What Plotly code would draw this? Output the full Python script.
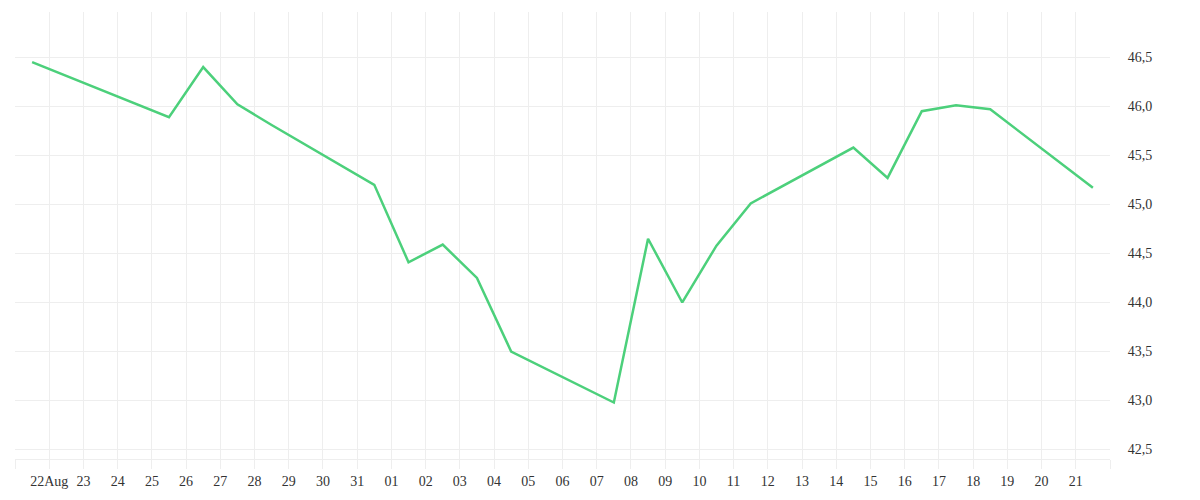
import pandas as pd
import plotly.graph_objects as go

# daily values (plotted at midday), gaps are days without data
dates = ['2020-08-21', '2020-08-25', '2020-08-26', '2020-08-27', '2020-08-28',
         '2020-08-31', '2020-09-01', '2020-09-02', '2020-09-03', '2020-09-04',
         '2020-09-07', '2020-09-08', '2020-09-09', '2020-09-10', '2020-09-11',
         '2020-09-14', '2020-09-15', '2020-09-16', '2020-09-17', '2020-09-18',
         '2020-09-21']
values = [46.45, 45.89, 46.40, 46.02, 45.81,
          45.20, 44.41, 44.59, 44.25, 43.50,
          42.98, 44.65, 44.00, 44.58, 45.01,
          45.58, 45.27, 45.95, 46.01, 45.97,
          45.17]

y_ticks = [42.5, 43.0, 43.5, 44.0, 44.5, 45.0, 45.5, 46.0, 46.5]

GRID = '#eeeeee'
LINE = '#4cd07b'
FONT = 'Liberation Serif, Times New Roman, serif'


def main():
    x = pd.to_datetime(dates) + pd.Timedelta(hours=12)

    # one tick per day, first and last only mark the plot edges
    days = pd.date_range('2020-08-21', '2020-09-22', freq='D')
    tick_text = []
    for d in days:
        if d == days[0] or d == days[-1]:
            tick_text.append('')
        elif d == days[1]:
            tick_text.append(d.strftime('%d%b'))
        else:
            tick_text.append(d.strftime('%d'))

    fig = go.Figure()
    fig.add_trace(go.Scatter(
        x=x,
        y=values,
        mode='lines',
        line=dict(color=LINE, width=2.5),
        hoverinfo='skip'
    ))

    fig.update_xaxes(
        range=[days[0], days[-1]],
        tickvals=days,
        ticktext=tick_text,
        showgrid=True,
        gridcolor=GRID,
        gridwidth=1,
        ticks='outside',
        ticklen=9,
        tickcolor=GRID,
        showline=True,
        linecolor=GRID,
        zeroline=False,
        tickfont=dict(family=FONT, size=14, color='#333333')
    )

    fig.update_yaxes(
        side='right',
        range=[42.404, 46.962],
        tickvals=y_ticks,
        tickformat='.1f',
        showgrid=True,
        gridcolor=GRID,
        gridwidth=1,
        ticks='outside',
        ticklen=14,
        tickcolor='rgba(0,0,0,0)',
        zeroline=False,
        showline=False,
        tickfont=dict(family=FONT, size=14, color='#333333')
    )

    # page body keeps its 8px margin, so the figure is a bit smaller than the window
    fig.update_layout(
        width=1192,
        height=492,
        separators=',.',
        showlegend=False,
        plot_bgcolor='white',
        paper_bgcolor='white',
        margin={"r": 90, "t": 4, "l": 7, "b": 41}
    )

    fig.write_html('out.html')


if __name__ == "__main__":
    main()
